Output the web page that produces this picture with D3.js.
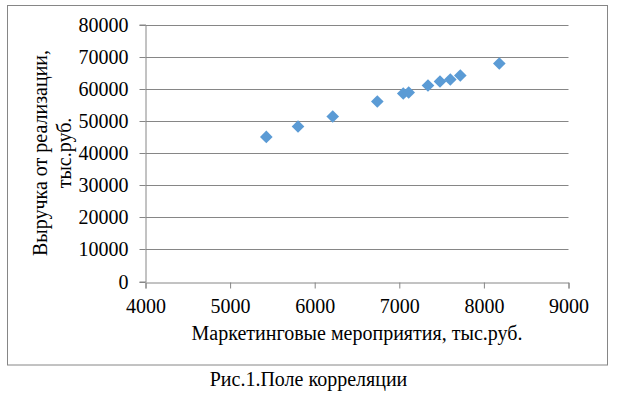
<!DOCTYPE html>
<html>
<head>
<meta charset="utf-8">
<script src="https://cdn.jsdelivr.net/npm/d3@7"></script>
</head>
<body style="margin:0">
<svg id="chart" width="617" height="396"></svg>
<script>
// Data: marketing expenses (x, тыс.руб.) vs. revenue (y, тыс.руб.)
const marketing = [5428, 5803, 6213, 6740, 7047, 7111, 7339, 7481, 7603, 7721, 8182];
const revenue   = [45010, 48250, 51360, 56030, 58520, 58830, 61010, 62260, 62880, 64120, 67860];
const xTicks = [4000, 5000, 6000, 7000, 8000, 9000];
const yTicks = [0, 10000, 20000, 30000, 40000, 50000, 60000, 70000, 80000];
const xTitle = "Маркетинговые мероприятия, тыс.руб.";
const yTitleLines = ["Выручка от реализации,", "тыс.руб."];
const caption = "Рис.1.Поле корреляции";

const FONT = '"Liberation Serif"';
const svg = d3.select("#chart");
const grey = "#868686";
const fontSize = 20;

const x = d3.scaleLinear().domain([4000, 9000]).range([145.5, 568.5]);
const y = d3.scaleLinear().domain([0, 80000]).range([281.5, 24.5]);

// outer frame
svg.append("rect")
  .attr("x", 7.5).attr("y", 5.5)
  .attr("width", 600).attr("height", 359.5)
  .attr("fill", "none").attr("stroke", grey).attr("stroke-width", 1);

// horizontal gridlines
svg.append("g").selectAll("line")
  .data(yTicks.filter(d => d !== 0))
  .join("line")
  .attr("x1", x(4000)).attr("x2", x(9000))
  .attr("y1", d => Math.round(y(d)) + 0.5).attr("y2", d => Math.round(y(d)) + 0.5)
  .attr("stroke", grey).attr("stroke-width", 1);

// y axis
const yAxis = svg.append("g")
  .attr("transform", `translate(${x(4000)},0)`)
  .call(d3.axisLeft(y).tickValues(yTicks).tickSize(6).tickPadding(11).tickFormat(d3.format("d")));
yAxis.attr("font-family", null).attr("font-size", null);
yAxis.select(".domain").attr("stroke", grey);
yAxis.selectAll(".tick line").attr("stroke", grey);
yAxis.selectAll(".tick").attr("transform", d => `translate(0,${Math.round(y(d)) + 0.5})`);
yAxis.selectAll("text").attr("fill", "#000").attr("font-family", FONT).attr("font-size", fontSize);

// x axis
const xAxis = svg.append("g")
  .attr("transform", `translate(0,${Math.round(y(0)) + 0.5})`)
  .call(d3.axisBottom(x).tickValues(xTicks).tickSize(6).tickPadding(10).tickFormat(d3.format("d")));
xAxis.attr("font-family", null).attr("font-size", null);
xAxis.select(".domain").attr("stroke", grey);
xAxis.selectAll(".tick line").attr("stroke", grey);
xAxis.selectAll("text").attr("fill", "#000").attr("font-family", FONT).attr("font-size", fontSize);

// points: diamonds
const diamond = d3.symbol().type(d3.symbolSquare).size(80);
svg.append("g").selectAll("path")
  .data(marketing.map((m, i) => [m, revenue[i]]))
  .join("path")
  .attr("d", diamond)
  .attr("transform", d => `translate(${x(d[0])},${y(d[1])}) rotate(45)`)
  .attr("fill", "#5B9BD5");

// x axis title
svg.append("text")
  .attr("x", (x(4000) + x(9000)) / 2).attr("y", 340)
  .attr("text-anchor", "middle")
  .attr("font-family", FONT).attr("font-size", fontSize)
  .text(xTitle);

// y axis title (two lines, rotated)
const yt = svg.append("text")
  .attr("transform", `translate(0,${(y(0) + y(80000)) / 2}) rotate(-90)`)
  .attr("text-anchor", "middle")
  .attr("font-family", FONT).attr("font-size", fontSize);
yt.selectAll("tspan")
  .data(yTitleLines)
  .join("tspan")
  .attr("x", 0)
  .attr("y", (d, i) => 47 + i * 24)
  .text(d => d);

// caption
svg.append("text")
  .attr("x", 308.5).attr("y", 386)
  .attr("text-anchor", "middle")
  .attr("font-family", FONT).attr("font-size", fontSize)
  .text(caption);
</script>
</body>
</html>
